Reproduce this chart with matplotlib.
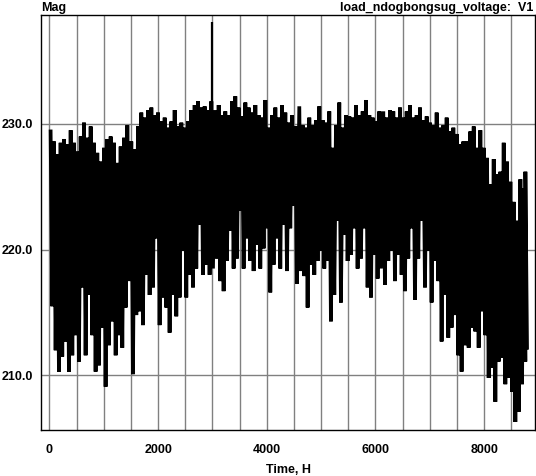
import numpy as np
import matplotlib
matplotlib.use("Agg")
import matplotlib.pyplot as plt
from matplotlib.ticker import FixedLocator, FuncFormatter

plt.rcParams['font.family'] = ['Liberation Sans', 'DejaVu Sans']
plt.rcParams['font.weight'] = 'bold'

hours = [21, 83, 144, 205, 267, 328, 390, 451, 512, 574, 635, 696, 758, 819, 880, 942,
         1003, 1065, 1126, 1188, 1249, 1310, 1372, 1433,
         1506, 1568, 1629, 1690, 1752, 1813, 1875, 1936, 1997, 2058, 2120, 2181, 2243,
         2304, 2365, 2427, 2488, 2549, 2611, 2672, 2733, 2795, 2856, 2917, 2979,
         3052, 3114, 3175, 3236, 3298, 3359, 3420, 3482, 3543, 3605, 3666, 3727, 3789,
         3850, 3911, 3973, 4034, 4095, 4157, 4218, 4279, 4341, 4402, 4463, 4525,
         4598, 4660, 4721, 4782, 4844, 4905, 4966, 5028, 5089, 5150, 5212, 5273, 5334,
         5396, 5457, 5519, 5580, 5641, 5703, 5764, 5825, 5887, 5948, 6009, 6071,
         6144, 6206, 6267, 6328, 6390, 6451, 6512, 6574, 6635, 6697, 6758, 6819, 6881,
         6942, 7003, 7065, 7126, 7187, 7249, 7310, 7371, 7433, 7494, 7555, 7617,
         7685, 7746, 7808, 7869, 7930, 7992, 8053, 8115, 8176, 8237, 8299, 8360, 8421,
         8483, 8544, 8605, 8667, 8728, 8759]

v_high = [229.4, 228.6, 227.6, 228.5, 228.8, 228.4, 229.5, 228.5, 227.8, 229.0, 230.1, 228.9,
          229.8, 228.5, 227.7, 227.0, 228.1, 228.8, 229.0, 228.5, 226.9, 228.2, 228.9, 229.9,
          228.6, 228.0, 229.8, 230.9, 230.5, 231.1, 231.3, 230.7, 230.9, 230.2, 230.5, 229.7,
          230.2, 231.1, 229.8, 230.1, 229.7, 230.2, 231.1, 231.5, 231.8, 231.3, 231.4, 231.1,
          231.8,
          231.1, 231.5, 230.7, 231.0, 230.7, 231.8, 232.2, 231.3, 230.6, 231.7, 231.3, 230.9,
          231.5, 230.7, 230.5, 231.9, 229.7, 230.7, 231.3, 230.5, 231.5, 230.9, 230.1, 230.7,
          229.8,
          231.4, 229.9, 229.7, 230.5, 229.9, 230.3, 231.4, 230.3, 230.1, 231.0, 228.1, 229.9,
          231.7, 229.7, 230.7, 230.6, 230.5, 231.5, 230.7, 231.0, 231.9, 230.7, 230.5, 230.2,
          231.0,
          231.0, 230.5, 231.1, 231.0, 230.5, 231.3, 230.5, 231.0, 231.5, 230.5, 230.7, 231.3,
          230.3, 230.6, 230.1, 229.9, 230.9, 229.7, 229.9, 230.5, 229.4, 229.7, 229.2, 228.4,
          228.6,
          228.6, 229.4, 229.8, 228.1, 229.5, 228.1, 227.3, 225.2, 227.2, 226.0, 226.2, 228.5,
          227.0, 225.4, 223.8, 222.3, 225.6, 224.9, 226.2]

v_low = [215.5, 212.0, 210.3, 211.5, 212.7, 210.3, 211.6, 213.2, 211.1, 217.0, 211.6, 216.4,
         213.2, 210.3, 210.8, 213.8, 209.1, 212.4, 214.3, 211.6, 213.2, 212.2, 215.4, 217.5,
         210.1, 214.8, 215.1, 214.0, 218.0, 216.4, 217.0, 220.9, 214.0, 216.2, 215.4, 213.4,
         216.4, 214.7, 216.2, 219.9, 216.2, 218.0, 217.0, 218.5, 222.0, 218.0, 218.8, 218.0,
         218.5,
         219.3, 217.5, 216.7, 219.1, 221.5, 218.5, 219.3, 223.1, 218.5, 220.9, 219.1, 218.3,
         220.4, 218.5, 220.1, 221.7, 216.6, 218.8, 220.9, 218.5, 222.0, 218.3, 221.7, 223.5,
         217.3,
         218.3, 217.9, 215.4, 218.8, 218.0, 219.1, 219.9, 218.5, 219.1, 214.3, 216.4, 222.3,
         215.8, 221.2, 219.1, 219.6, 221.7, 218.5, 219.3, 221.7, 217.0, 216.2, 219.6, 217.7,
         218.5,
         217.2, 219.1, 219.9, 217.5, 219.6, 218.0, 216.7, 219.3, 221.7, 216.0, 219.3, 222.3,
         217.0, 219.9, 215.8, 219.1, 217.5, 212.7, 216.4, 213.0, 213.8, 214.8, 211.6, 210.3,
         212.4,
         212.2, 213.8, 213.5, 212.2, 215.1, 213.2, 209.8, 210.6, 207.9, 211.1, 211.4, 209.3,
         209.8, 208.7, 206.3, 207.1, 209.3, 211.1, 212.2]

# single outlier near hour 3000
spike_hour = 2985
spike_base = 224.0
spike_peak = 238.1

x_ticks = np.arange(0, 9000, 500)
x_labels = [0, 2000, 4000, 6000, 8000]
y_ticks = [210, 220, 230]

fig = plt.figure(figsize=(5.36, 4.76), dpi=100)
ax = fig.add_axes([41 / 536, 1 - 430 / 476, 494 / 536, 415 / 476])

# daily swing: peak then trough, drawn as one zigzag line
h = np.asarray(hours, dtype=float)
xz = np.column_stack([h, h + 30]).ravel()
yz = np.column_stack([v_high, v_low]).ravel()
ax.plot(xz, yz, color='black', lw=2.7, solid_joinstyle='miter', zorder=3)
ax.vlines(spike_hour, spike_base, spike_peak, color='black', lw=1.6, zorder=3)

ax.set_xlim(-156, 8936)
ax.set_ylim(205.66, 238.66)

ax.xaxis.set_major_locator(FixedLocator(x_ticks))
ax.xaxis.set_major_formatter(FuncFormatter(lambda v, p: f"{int(v)}" if int(v) in x_labels else ""))
ax.yaxis.set_major_locator(FixedLocator(y_ticks))
ax.yaxis.set_major_formatter(FuncFormatter(lambda v, p: f"{v:.1f}"))
ax.tick_params(axis='x', length=0, pad=10, labelsize=9)
ax.tick_params(axis='y', length=0, pad=6, labelsize=9)
for lab in ax.get_xticklabels() + ax.get_yticklabels():
    lab.set_fontweight('bold')

ax.grid(True, color='#808080', lw=1.0)
ax.set_axisbelow(True)
for s in ax.spines.values():
    s.set_color('black')
    s.set_linewidth(1.0)

ax.set_xlabel("Time, H", fontsize=9, fontweight='bold', labelpad=6)
fig.text(41 / 536, 1 - 8 / 476, "Mag", fontsize=9, fontweight='bold', va='center', ha='left')
fig.text(533 / 536, 1 - 8 / 476, "load_ndogbongsug_voltage:  V1", fontsize=9,
         fontweight='bold', va='center', ha='right')

fig.savefig("out.png", dpi=100)
